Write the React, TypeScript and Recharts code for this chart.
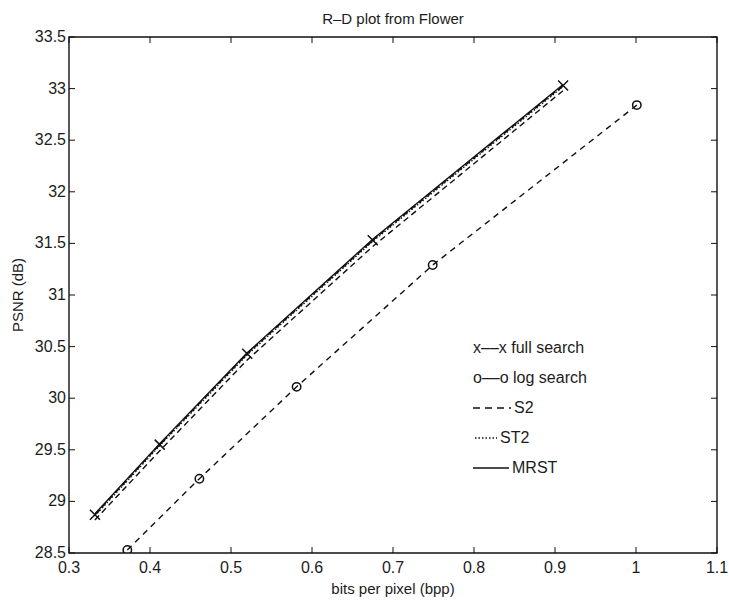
import { LineChart, Line, XAxis, YAxis, ReferenceArea } from 'recharts';

// R-D plot from Flower: PSNR vs bits per pixel
const fullBpp = [0.332, 0.412, 0.52, 0.675, 0.91];
const fullPsnr = [28.87, 29.55, 30.43, 31.53, 33.03];
const s2Psnr = [28.82, 29.49, 30.37, 31.47, 32.98];
const st2Psnr = [28.86, 29.54, 30.42, 31.52, 33.02];
const mrstPsnr = [28.88, 29.56, 30.44, 31.54, 33.04];

const logBpp = [0.372, 0.461, 0.581, 0.749, 1.001];
const logPsnr = [28.53, 29.22, 30.11, 31.29, 32.84];

const X_TICKS = [0.3, 0.4, 0.5, 0.6, 0.7, 0.8, 0.9, 1, 1.1];
const Y_TICKS = [28.5, 29, 29.5, 30, 30.5, 31, 31.5, 32, 32.5, 33, 33.5];

const W = 729;
const H = 602;
const PLOT_TOP = 37;
const PLOT_BOTTOM = 553;
const PLOT_LEFT = 69;
const PLOT_RIGHT = 717;
const FONT = '"Liberation Sans", Arial, Helvetica, sans-serif';
const INK = '#111';
const TEXT = '#1c1c1c';

const fullData = fullBpp.map((x, i) => ({ x, y: fullPsnr[i] }));
const s2Data = fullBpp.map((x, i) => ({ x, y: s2Psnr[i] }));
const st2Data = fullBpp.map((x, i) => ({ x, y: st2Psnr[i] }));
const mrstData = fullBpp.map((x, i) => ({ x, y: mrstPsnr[i] }));
const logData = logBpp.map((x, i) => ({ x, y: logPsnr[i] }));

function XTick({ x, payload }: any) {
  return (
    <g>
      <line x1={x} x2={x} y1={PLOT_BOTTOM} y2={PLOT_BOTTOM - 6} stroke={INK} />
      <line x1={x} x2={x} y1={PLOT_TOP} y2={PLOT_TOP + 6} stroke={INK} />
      <text x={x} y={PLOT_BOTTOM + 20} textAnchor="middle" fontSize={16} fill={TEXT} fontFamily={FONT}>
        {String(payload.value)}
      </text>
    </g>
  );
}

function YTick({ y, payload }: any) {
  return (
    <g>
      <line x1={PLOT_LEFT} x2={PLOT_LEFT + 6} y1={y} y2={y} stroke={INK} />
      <line x1={PLOT_RIGHT} x2={PLOT_RIGHT - 6} y1={y} y2={y} stroke={INK} />
      <text x={PLOT_LEFT - 3} y={y + 5} textAnchor="end" fontSize={16} fill={TEXT} fontFamily={FONT}>
        {String(payload.value)}
      </text>
    </g>
  );
}

function XMark(props: any) {
  const { cx, cy, index } = props;
  if (cx == null || cy == null) return <g key={index} />;
  const r = 5;
  return (
    <path
      key={index}
      d={`M${cx - r},${cy - r}L${cx + r},${cy + r}M${cx - r},${cy + r}L${cx + r},${cy - r}`}
      stroke={INK}
      strokeWidth={1.5}
      fill="none"
    />
  );
}

function OMark(props: any) {
  const { cx, cy, index } = props;
  if (cx == null || cy == null) return <g key={index} />;
  return <circle key={index} cx={cx} cy={cy} r={4.2} stroke={INK} strokeWidth={1.5} fill="none" />;
}

function LegendRow({ children }: { children: any }) {
  return <div style={{ height: 30, display: 'flex', alignItems: 'center', whiteSpace: 'nowrap' }}>{children}</div>;
}

function Sample({ width, dash }: { width: number; dash?: string }) {
  return (
    <svg width={width} height={10} style={{ marginRight: 3 }}>
      <line x1={0} x2={width} y1={5} y2={5} stroke={INK} strokeWidth={1.5} strokeDasharray={dash} />
    </svg>
  );
}

export default function App() {
  return (
    <div style={{ position: 'absolute', left: 0, top: 0, width: W, height: H, background: '#fff', fontFamily: FONT }}>
      <LineChart width={W} height={H} margin={{ top: PLOT_TOP, right: W - PLOT_RIGHT, left: 0, bottom: 0 }}>
        <XAxis
          dataKey="x"
          type="number"
          domain={[0.3, 1.1]}
          ticks={X_TICKS}
          allowDataOverflow
          height={H - PLOT_BOTTOM}
          axisLine={false}
          tickLine={false}
          tick={<XTick />}
          interval={0}
        />
        <YAxis
          dataKey="y"
          type="number"
          domain={[28.5, 33.5]}
          ticks={Y_TICKS}
          allowDataOverflow
          width={PLOT_LEFT}
          axisLine={false}
          tickLine={false}
          tick={<YTick />}
          interval={0}
        />
        <ReferenceArea x1={0.3} x2={1.1} y1={28.5} y2={33.5} fill="none" stroke={INK} strokeWidth={1.4} />
        <Line data={s2Data} dataKey="y" stroke={INK} strokeWidth={1.4} strokeDasharray="6 4" dot={false} isAnimationActive={false} />
        <Line data={st2Data} dataKey="y" stroke={INK} strokeWidth={1.4} strokeDasharray="1.5 2" dot={false} isAnimationActive={false} />
        <Line data={mrstData} dataKey="y" stroke={INK} strokeWidth={1.4} dot={false} isAnimationActive={false} />
        <Line data={fullData} dataKey="y" stroke={INK} strokeWidth={1.4} strokeDasharray="6 4" dot={<XMark />} isAnimationActive={false} />
        <Line data={logData} dataKey="y" stroke={INK} strokeWidth={1.4} strokeDasharray="6 5" dot={<OMark />} isAnimationActive={false} />
      </LineChart>

      <div style={{ position: 'absolute', left: (PLOT_LEFT + PLOT_RIGHT) / 2, top: 10, transform: 'translateX(-50%)', fontSize: 15, color: TEXT, whiteSpace: 'nowrap' }}>
        R–D plot from Flower
      </div>
      <div style={{ position: 'absolute', left: (PLOT_LEFT + PLOT_RIGHT) / 2, top: 580, transform: 'translateX(-50%)', fontSize: 15, color: TEXT, whiteSpace: 'nowrap' }}>
        bits per pixel (bpp)
      </div>
      <div
        style={{
          position: 'absolute',
          left: 17,
          top: (PLOT_TOP + PLOT_BOTTOM) / 2,
          transform: 'translate(-50%, -50%) rotate(-90deg)',
          fontSize: 15,
          color: TEXT,
          whiteSpace: 'nowrap',
        }}
      >
        PSNR (dB)
      </div>

      <div style={{ position: 'absolute', left: 473, top: 333, fontSize: 16, color: TEXT }}>
        <LegendRow>x––x full search</LegendRow>
        <LegendRow>o––o log search</LegendRow>
        <LegendRow>
          <Sample width={38} dash="7 5" />S2
        </LegendRow>
        <LegendRow>
          <span style={{ display: 'inline-block', width: 2 }} />
          <Sample width={22} dash="1.5 2" />ST2
        </LegendRow>
        <LegendRow>
          <Sample width={36} />MRST
        </LegendRow>
      </div>
    </div>
  );
}
